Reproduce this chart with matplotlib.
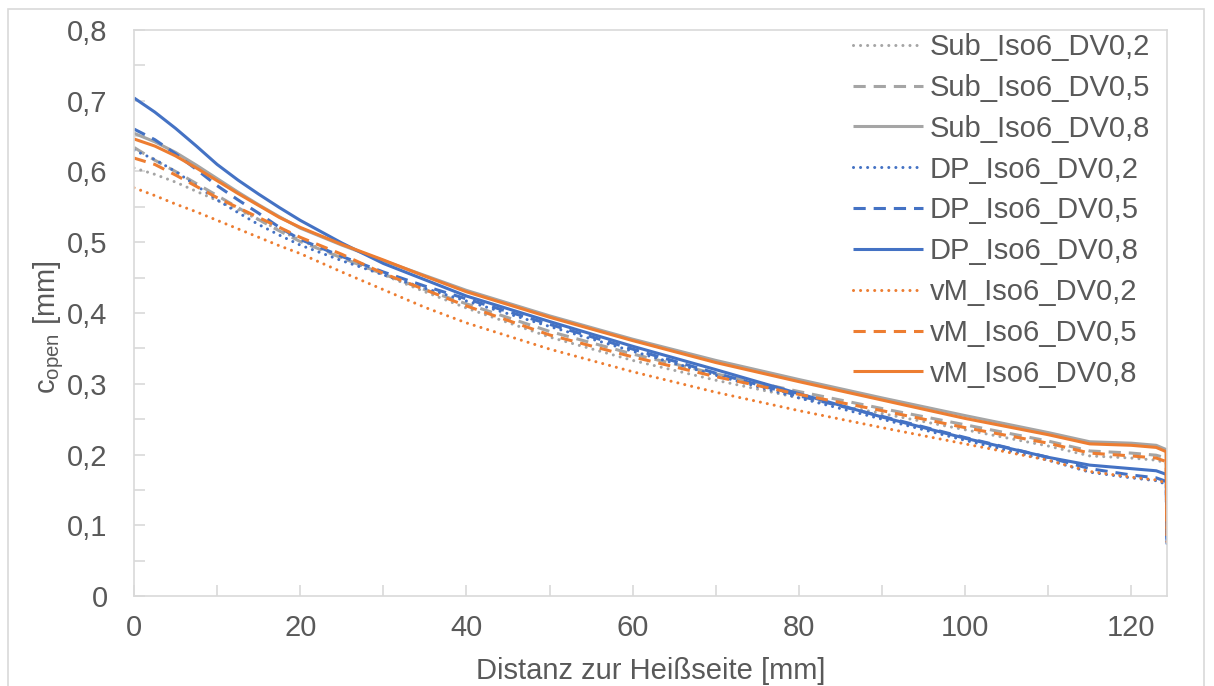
import matplotlib.pyplot as plt
import matplotlib.ticker as mticker
from matplotlib.patches import Rectangle

plt.rcParams['font.family'] = ['Liberation Sans', 'DejaVu Sans']

# --- Daten ---
x_mm = [0, 2.5, 5, 7.5, 10, 12.5, 15, 17.5, 20, 25, 30, 35, 40, 50, 60, 70, 80, 90, 100,
        110, 115, 120, 123, 124.2, 124.3]

sub_02 = [0.605, 0.596, 0.585, 0.572, 0.559, 0.546, 0.532, 0.517, 0.503, 0.478, 0.454, 0.430, 0.407,
          0.366, 0.333, 0.305, 0.280, 0.258, 0.235, 0.212, 0.198, 0.195, 0.192, 0.188, 0.085]
sub_05 = [0.634, 0.616, 0.600, 0.583, 0.566, 0.549, 0.532, 0.516, 0.501, 0.478, 0.455, 0.433, 0.413,
          0.374, 0.342, 0.314, 0.289, 0.265, 0.242, 0.219, 0.205, 0.202, 0.199, 0.195, 0.090]
sub_08 = [0.654, 0.642, 0.627, 0.609, 0.590, 0.571, 0.553, 0.536, 0.520, 0.496, 0.474, 0.453, 0.432,
          0.396, 0.363, 0.333, 0.306, 0.280, 0.255, 0.231, 0.218, 0.216, 0.213, 0.207, 0.095]
dp_02 = [0.630, 0.617, 0.600, 0.580, 0.560, 0.542, 0.525, 0.510, 0.496, 0.474, 0.454, 0.435, 0.417,
         0.381, 0.346, 0.312, 0.280, 0.250, 0.220, 0.192, 0.175, 0.167, 0.163, 0.158, 0.070]
dp_05 = [0.660, 0.645, 0.625, 0.603, 0.580, 0.560, 0.541, 0.521, 0.504, 0.480, 0.458, 0.438, 0.420,
         0.384, 0.349, 0.315, 0.283, 0.254, 0.224, 0.196, 0.180, 0.171, 0.167, 0.162, 0.075]
dp_08 = [0.704, 0.684, 0.661, 0.636, 0.610, 0.588, 0.568, 0.549, 0.531, 0.499, 0.470, 0.447, 0.424,
         0.388, 0.353, 0.320, 0.286, 0.253, 0.223, 0.196, 0.185, 0.180, 0.177, 0.172, 0.080]
vm_02 = [0.577, 0.566, 0.554, 0.543, 0.531, 0.519, 0.507, 0.495, 0.484, 0.458, 0.433, 0.408, 0.386,
         0.349, 0.317, 0.288, 0.262, 0.238, 0.215, 0.192, 0.176, 0.168, 0.164, 0.160, 0.072]
vm_05 = [0.619, 0.610, 0.595, 0.579, 0.563, 0.549, 0.535, 0.521, 0.507, 0.483, 0.456, 0.433, 0.410,
         0.369, 0.338, 0.310, 0.285, 0.262, 0.238, 0.216, 0.202, 0.198, 0.195, 0.190, 0.085]
vm_08 = [0.646, 0.636, 0.622, 0.605, 0.587, 0.569, 0.552, 0.535, 0.521, 0.497, 0.475, 0.452, 0.430,
         0.394, 0.361, 0.330, 0.303, 0.277, 0.251, 0.228, 0.215, 0.213, 0.210, 0.204, 0.095]

labels = ['Sub_Iso6_DV0,2', 'Sub_Iso6_DV0,5', 'Sub_Iso6_DV0,8',
          'DP_Iso6_DV0,2', 'DP_Iso6_DV0,5', 'DP_Iso6_DV0,8',
          'vM_Iso6_DV0,2', 'vM_Iso6_DV0,5', 'vM_Iso6_DV0,8']
series = [sub_02, sub_05, sub_08, dp_02, dp_05, dp_08, vm_02, vm_05, vm_08]

# --- Stil (Excel-Standardfarben) ---
GRAU, BLAU, ORANGE = '#A5A5A5', '#4472C4', '#ED7D31'
farben = [GRAU] * 3 + [BLAU] * 3 + [ORANGE] * 3
punkt = (0, (0.01, 2.3))
strich = (0, (4, 2.6))
stile = [punkt, strich, '-'] * 3
TEXT = '#595959'
RAHMEN = '#D9D9D9'
FS = 21

fig = plt.figure(figsize=(12.14, 6.86), dpi=100)
# äußerer Diagrammrahmen
fig.patches.append(Rectangle((8 / 1214, -0.05), 1196 / 1214, 1 + 0.05 - 9 / 686,
                             transform=fig.transFigure, fill=False,
                             edgecolor=RAHMEN, linewidth=1.2))

ax = fig.add_axes([134 / 1214, 1 - 596 / 686, (1167 - 134) / 1214, (596 - 30) / 686])

for y, lab, c, ls in zip(series, labels, farben, stile):
    cap = 'round' if ls == punkt else 'butt'
    ax.plot(x_mm, y, color=c, linestyle=ls, linewidth=2.2, label=lab,
            dash_capstyle=cap, solid_capstyle='butt')

ax.set_xlim(0, 124.3)
ax.set_ylim(0, 0.8)
ax.xaxis.set_major_locator(mticker.MultipleLocator(20))
ax.xaxis.set_minor_locator(mticker.MultipleLocator(10))
ax.yaxis.set_major_locator(mticker.MultipleLocator(0.1))
ax.yaxis.set_minor_locator(mticker.MultipleLocator(0.05))
ax.yaxis.set_major_formatter(mticker.FuncFormatter(lambda v, p: f'{v:.1f}'.replace('.', ',') if v > 0 else '0'))

for s in ax.spines.values():
    s.set_color(RAHMEN)
    s.set_linewidth(1.2)

ax.tick_params(which='both', direction='in', color=RAHMEN, width=1.2, length=8,
               labelsize=FS, labelcolor=TEXT)
ax.tick_params(axis='x', pad=13)
ax.tick_params(axis='y', pad=19)

ax.set_xlabel('Distanz zur Heißseite [mm]', fontsize=FS, color=TEXT)
ax.set_ylabel(r'c$_{\mathregular{open}}$ [mm]', fontsize=FS, color=TEXT)
ax.xaxis.set_label_coords(0.5, -0.108)
ax.yaxis.set_label_coords(-0.066, 0.475)

leg = ax.legend(loc='upper right', bbox_to_anchor=((1150 - 134) / 1033, (596 - 33) / 566),
                frameon=False, fontsize=FS, handlelength=2.4, handletextpad=0.24,
                labelspacing=0.44, labelcolor=TEXT, borderaxespad=0, borderpad=0)

plt.savefig('out.png', dpi=100)
